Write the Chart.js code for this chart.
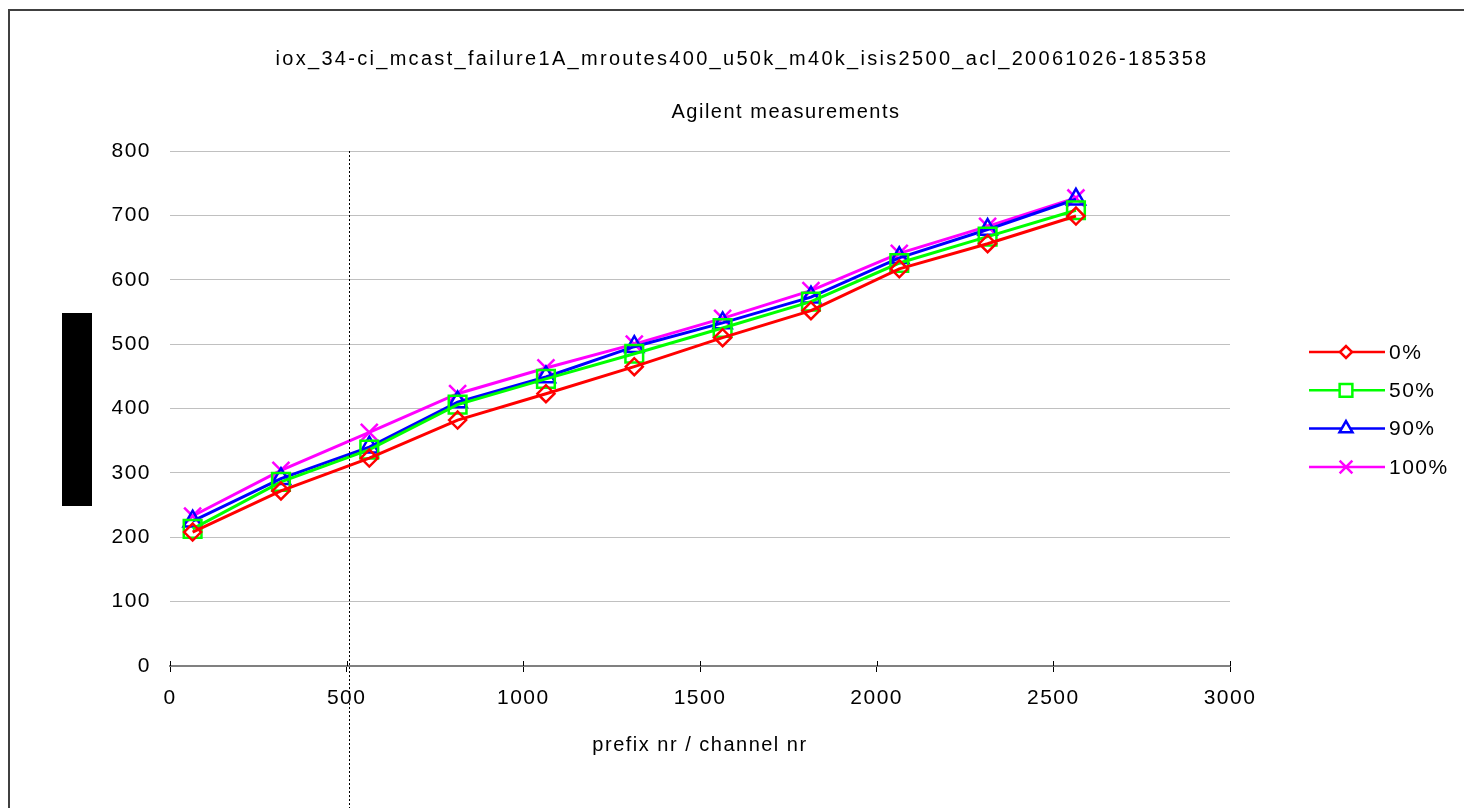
<!DOCTYPE html>
<html>
<head>
<meta charset="utf-8">
<script src="https://cdn.jsdelivr.net/npm/chart.js@4.4.1/dist/chart.umd.min.js"></script>
<style>
  html, body { margin: 0; padding: 0; background: #fff; }
  #wrap { width: 1464px; height: 808px; position: relative; }
</style>
</head>
<body>
<div id="wrap"><canvas id="myChart"></canvas></div>
<script>
// data
const prefixNr = [64, 314, 564, 814, 1064, 1314, 1564, 1814, 2064, 2314, 2564];
const load0 = [208, 272, 323, 382, 423, 465, 510, 552, 617, 656, 699];
const load50 = [213, 286, 336, 406, 446, 485, 525, 566, 626, 667, 708];
const load90 = [225, 291, 340, 410, 449, 496, 533, 573, 634, 678, 725];
const load100 = [233, 304, 363, 423, 463, 500, 540, 583, 641, 683, 727];
const seriesLabels = ['0%', '50%', '90%', '100%'];
const markerPrefix = 506;

const chartTitle = 'iox_34-ci_mcast_failure1A_mroutes400_u50k_m40k_isis2500_acl_20061026-185358';
const chartSubtitle = 'Agilent measurements';
const xTitle = 'prefix nr / channel nr';

const FONT = '"Liberation Sans", Arial, sans-serif';

function toPoints(ys) {
  return ys.map((y, i) => ({ x: prefixNr[i], y: y }));
}

const seriesStyle = [
  { color: '#FF0000', style: 'rectRot', r: 8.5, lr: 6 },
  { color: '#00FF00', style: 'rect', r: 12.5, lr: 9 },
  { color: '#0000FF', style: 'triangle', r: 10.5, lr: 7.5 },
  { color: '#FF00FF', style: 'crossRot', r: 12, lr: 9 }
];
const seriesData = [load0, load50, load90, load100];

const datasets = seriesData.map((d, i) => ({
  label: seriesLabels[i],
  data: toPoints(d),
  borderColor: seriesStyle[i].color,
  backgroundColor: seriesStyle[i].color,
  borderWidth: 3,
  pointStyle: seriesStyle[i].style,
  pointRadius: seriesStyle[i].r,
  pointHoverRadius: seriesStyle[i].r,
  pointBorderWidth: 2.5,
  pointBorderColor: seriesStyle[i].color,
  pointBackgroundColor: 'rgba(0,0,0,0)',
  tension: 0
}));

const decor = {
  id: 'decor',
  beforeDraw(chart) {
    const ctx = chart.ctx;
    ctx.save();
    ctx.fillStyle = '#fff';
    ctx.fillRect(0, 0, chart.width, chart.height);
    ctx.restore();
    ctx.letterSpacing = '1.5px';
  },
  afterDraw(chart) {
    const ctx = chart.ctx;
    const xs = chart.scales.x;
    ctx.save();
    ctx.letterSpacing = '0px';

    // vertical dotted marker
    const mx = Math.round(xs.getPixelForValue(markerPrefix)) + 0.5;
    ctx.strokeStyle = '#000';
    ctx.lineWidth = 1;
    ctx.setLineDash([2, 2]);
    ctx.beginPath();
    ctx.moveTo(mx, chart.chartArea.top);
    ctx.lineTo(mx, chart.height);
    ctx.stroke();
    ctx.setLineDash([]);

    // axis ticks also reach a little into the plot, like the original
    ctx.strokeStyle = '#000';
    ctx.lineWidth = 1;
    xs.ticks.forEach((t) => {
      const px = Math.round(xs.getPixelForValue(t.value)) + 0.5;
      ctx.beginPath();
      ctx.moveTo(px, chart.chartArea.bottom - 5);
      ctx.lineTo(px, chart.chartArea.bottom);
      ctx.stroke();
    });

    // outer frame
    ctx.strokeStyle = '#404040';
    ctx.lineWidth = 2;
    ctx.strokeRect(9, 10, chart.width + 20, chart.height + 20);

    // black block where the y title sits
    ctx.fillStyle = '#000';
    ctx.fillRect(62, 313, 30, 193);

    // titles
    ctx.fillStyle = '#000';
    ctx.textAlign = 'center';
    ctx.textBaseline = 'middle';
    ctx.font = '20px ' + FONT;
    ctx.letterSpacing = '2.3px';
    ctx.fillText(chartTitle, 742, 59);
    ctx.letterSpacing = '1.5px';
    ctx.fillText(chartSubtitle, 786, 112);

    // legend
    ctx.textAlign = 'left';
    ctx.font = '21px ' + FONT;
    ctx.letterSpacing = '1.5px';
    chart.data.datasets.forEach((ds, i) => {
      const y = 352 + i * 38.3;
      const st = seriesStyle[i];
      ctx.strokeStyle = st.color;
      ctx.lineWidth = 2.5;
      ctx.beginPath();
      ctx.moveTo(1309, y);
      ctx.lineTo(1385, y);
      ctx.stroke();
      ctx.fillStyle = '#fff';
      ctx.strokeStyle = st.color;
      ctx.lineWidth = 2.5;
      Chart.helpers.drawPoint(ctx, { pointStyle: st.style, radius: st.lr, borderWidth: 2.5, rotation: 0 }, 1346, y);
      ctx.fillStyle = '#000';
      ctx.fillText(ds.label, 1389, y + 1);
    });
    ctx.restore();
  }
};

const ctx = document.getElementById('myChart').getContext('2d');

// eslint-disable-next-line no-undef
const chart = new Chart(ctx, {
  type: 'line',
  data: { datasets: datasets },
  plugins: [decor],
  options: {
    responsive: true,
    maintainAspectRatio: false,
    animation: false,
    layout: { padding: { top: 151, right: 234, left: 0, bottom: 0 } },
    plugins: {
      legend: { display: false },
      title: { display: false },
      tooltip: { enabled: false }
    },
    scales: {
      x: {
        type: 'linear',
        min: 0,
        max: 3000,
        afterFit(scale) { scale.height = 142; },
        ticks: {
          stepSize: 500,
          color: '#000',
          padding: 14,
          maxRotation: 0,
          font: { family: FONT, size: 21 },
          callback: (v) => String(v)
        },
        grid: { drawOnChartArea: false, drawTicks: true, tickLength: 6, tickColor: '#000' },
        border: { color: '#808080', width: 2 },
        title: { display: true, text: xTitle, color: '#000', font: { family: FONT, size: 20 }, padding: { top: 0, bottom: 51 } }
      },
      y: {
        min: 0,
        max: 800,
        afterFit(scale) { scale.width = 170; },
        ticks: { stepSize: 100, color: '#000', padding: 19, font: { family: FONT, size: 21 } },
        grid: {
          drawTicks: false,
          color: (c) => (c.tick && c.tick.value === 0 ? 'rgba(0,0,0,0)' : '#c0c0c0'),
          lineWidth: 1
        },
        border: { display: false }
      }
    }
  }
});
</script>
</body>
</html>
